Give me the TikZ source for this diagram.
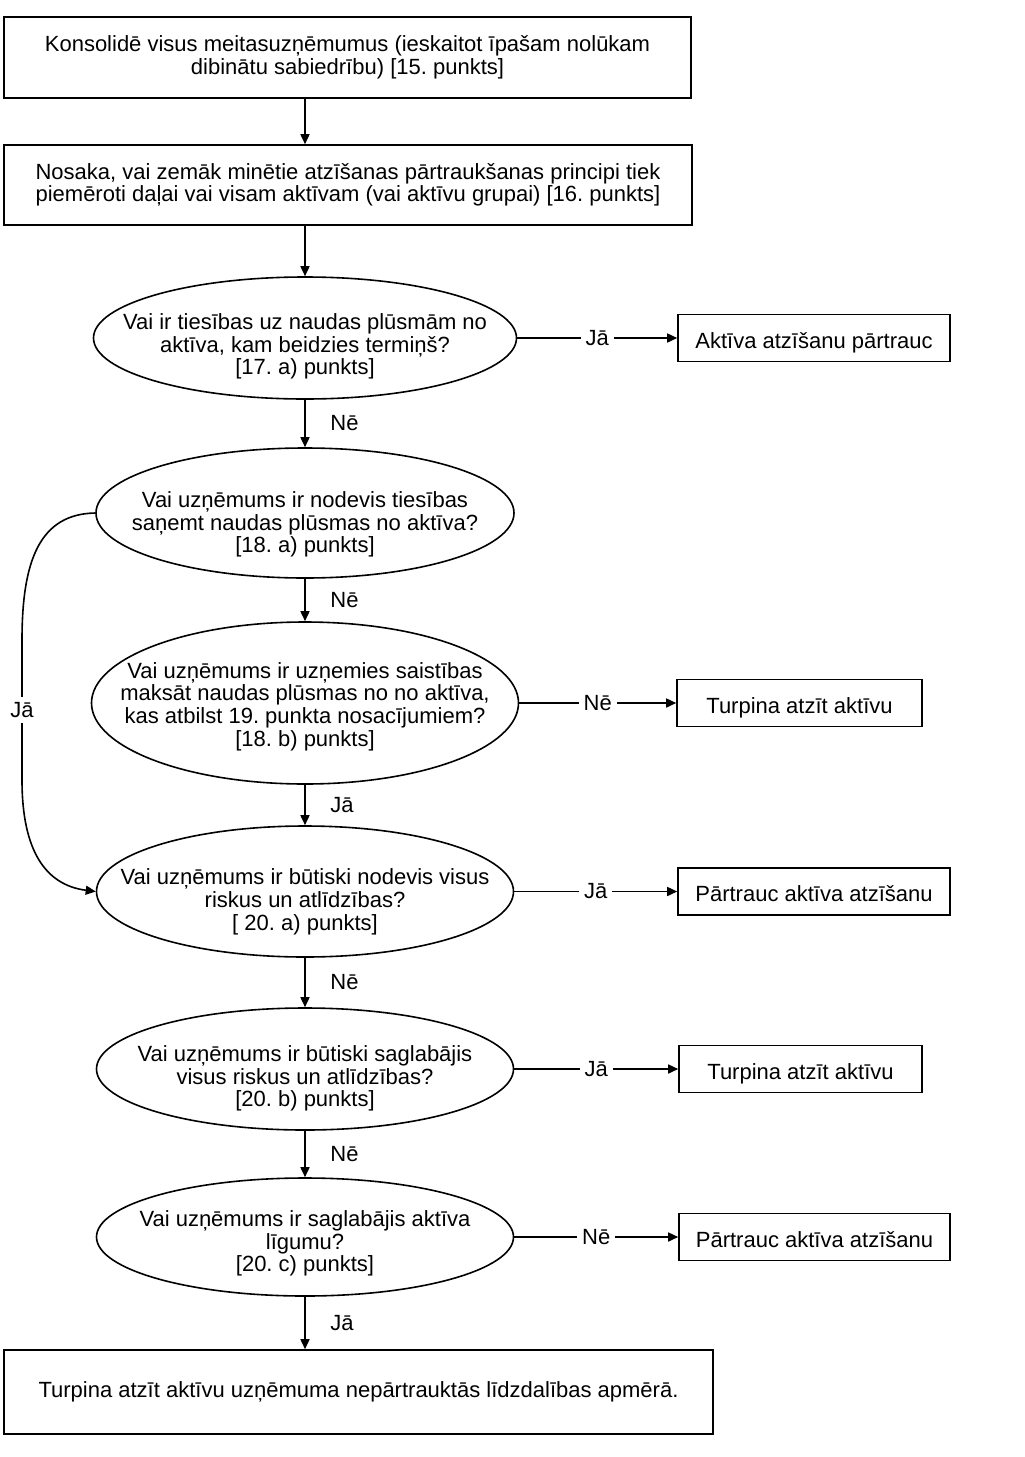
\documentclass[tikz,border=0pt]{standalone}
\usepackage{fontspec}
\setmainfont{Liberation Sans}
\usetikzlibrary{arrows.meta, positioning, shapes.geometric}
\frenchspacing

% question text, lowered a little inside its ellipse
\newcommand{\qlines}[2][7pt]{\makebox[0pt]{\raisebox{-#1}[0pt][0pt]{\begin{tabular}{@{}c@{}}#2\end{tabular}}}}

\begin{document}
\begin{tikzpicture}[
    x=0.5pt, y=-0.5pt,
    font=\fontsize{11}{11.3}\selectfont,
    action/.style={
        rectangle,
        draw,
        line width=0.8pt,
        inner sep=0pt,
        align=center
    },
    question/.style={
        ellipse,
        draw,
        line width=0.8pt,
        inner sep=0pt
    },
    outcome/.style={
        rectangle,
        draw,
        line width=0.8pt,
        inner sep=0pt,
        minimum height=23.5pt,
        text height=11pt,
        text depth=1pt,
        align=center
    },
    arr/.style={-{Triangle[length=5pt, width=4.5pt]}, line width=0.8pt},
    side/.style={right=9pt, midway},
    gap/.style={fill=white, inner sep=2.5pt, midway}
]

\useasboundingbox (0,0) rectangle (1024,1457);

\node[action, minimum width=343.5pt, minimum height=40.5pt] (consolidate) at (347.5,57.5) {Konsolidē visus meitasuzņēmumus (ieskaitot īpašam nolūkam\\dibinātu sabiedrību) [15. punkts]};

\node[action, minimum width=344pt, minimum height=40pt] (extent) at (348,185) {Nosaka, vai zemāk minētie atzīšanas pārtraukšanas principi tiek\\piemēroti daļai vai visam aktīvam (vai aktīvu grupai) [16. punkts]};

\node[question, minimum width=211.5pt, minimum height=61pt] (expired) at (305,338) {\qlines[7.5pt]{Vai ir tiesības uz naudas plūsmām no\\aktīva, kam beidzies termiņš?\\{[17. a) punkts]}}};

\node[question, minimum width=209pt, minimum height=65pt] (transferred) at (305,513) {\qlines[9pt]{Vai uzņēmums ir nodevis tiesības\\saņemt naudas plūsmas no aktīva?\\{[18. a) punkts]}}};

\node[question, minimum width=213.5pt, minimum height=81pt] (passthrough) at (305,703) {\qlines[5pt]{Vai uzņēmums ir uzņemies saistības\\maksāt naudas plūsmas no no aktīva,\\kas atbilst 19. punkta nosacījumiem?\\{[18. b) punkts]}}};

\node[question, minimum width=208.5pt, minimum height=65.5pt] (risksgone) at (305,891.5) {\qlines[8.5pt]{Vai uzņēmums ir būtiski nodevis visus\\riskus un atlīdzības?\\{[ 20. a) punkts]}}};

\node[question, minimum width=208.5pt, minimum height=61pt] (riskskept) at (305,1069) {\qlines[8pt]{Vai uzņēmums ir būtiski saglabājis\\visus riskus un atlīdzības?\\{[20. b) punkts]}}};

\node[question, minimum width=208.5pt, minimum height=59pt] (control) at (305,1237) {\qlines[6.5pt]{Vai uzņēmums ir saglabājis aktīva\\līgumu?\\{[20. c) punkts]}}};

\node[outcome, minimum width=136pt] (stop1) at (814,338) {Aktīva atzīšanu pārtrauc};
\node[outcome, minimum width=122.5pt] (keep1) at (799.5,703) {Turpina atzīt aktīvu};
\node[outcome, minimum width=136pt] (stop2) at (814,891.5) {Pārtrauc aktīva atzīšanu};
\node[outcome, minimum width=121.5pt] (keep2) at (800.5,1069) {Turpina atzīt aktīvu};
\node[outcome, minimum width=135.5pt] (stop3) at (814.5,1237) {Pārtrauc aktīva atzīšanu};

\node[action, minimum width=354.5pt, minimum height=42pt] (involvement) at (358.5,1392) {Turpina atzīt aktīvu uzņēmuma nepārtrauktās līdzdalības apmērā.};

\coordinate (bendtop) at (22,640);
\coordinate (bendbot) at (22,780);

\draw[arr] (consolidate.south -| expired) -- (extent.north -| expired);
\draw[arr] (extent.south -| expired) -- (expired.north);
\draw[arr] (expired.south) -- node[side]{Nē} (transferred.north);
\draw[arr] (transferred.south) -- node[side]{Nē} (passthrough.north);
\draw[arr] (passthrough.south) -- node[side]{Jā} (risksgone.north);
\draw[arr] (risksgone.south) -- node[side]{Nē} (riskskept.north);
\draw[arr] (riskskept.south) -- node[side]{Nē} (control.north);
\draw[arr] (control.south) -- node[side]{Jā} (control.south |- involvement.north);

\draw[arr] (expired.east) -- node[gap]{Jā} (stop1.west);
\draw[arr] (passthrough.east) -- node[gap]{Nē} (keep1.west);
\draw[arr] (risksgone.east) -- node[gap]{Jā} (stop2.west);
\draw[arr] (riskskept.east) -- node[gap]{Jā} (keep2.west);
\draw[arr] (control.east) -- node[gap]{Nē} (stop3.west);

\draw[arr] (transferred.west) .. controls (40,514) and (22,560) .. (bendtop) -- node[gap]{Jā} (bendbot) .. controls (22,850) and (45,885) .. (risksgone.west);

\end{tikzpicture}
\end{document}
